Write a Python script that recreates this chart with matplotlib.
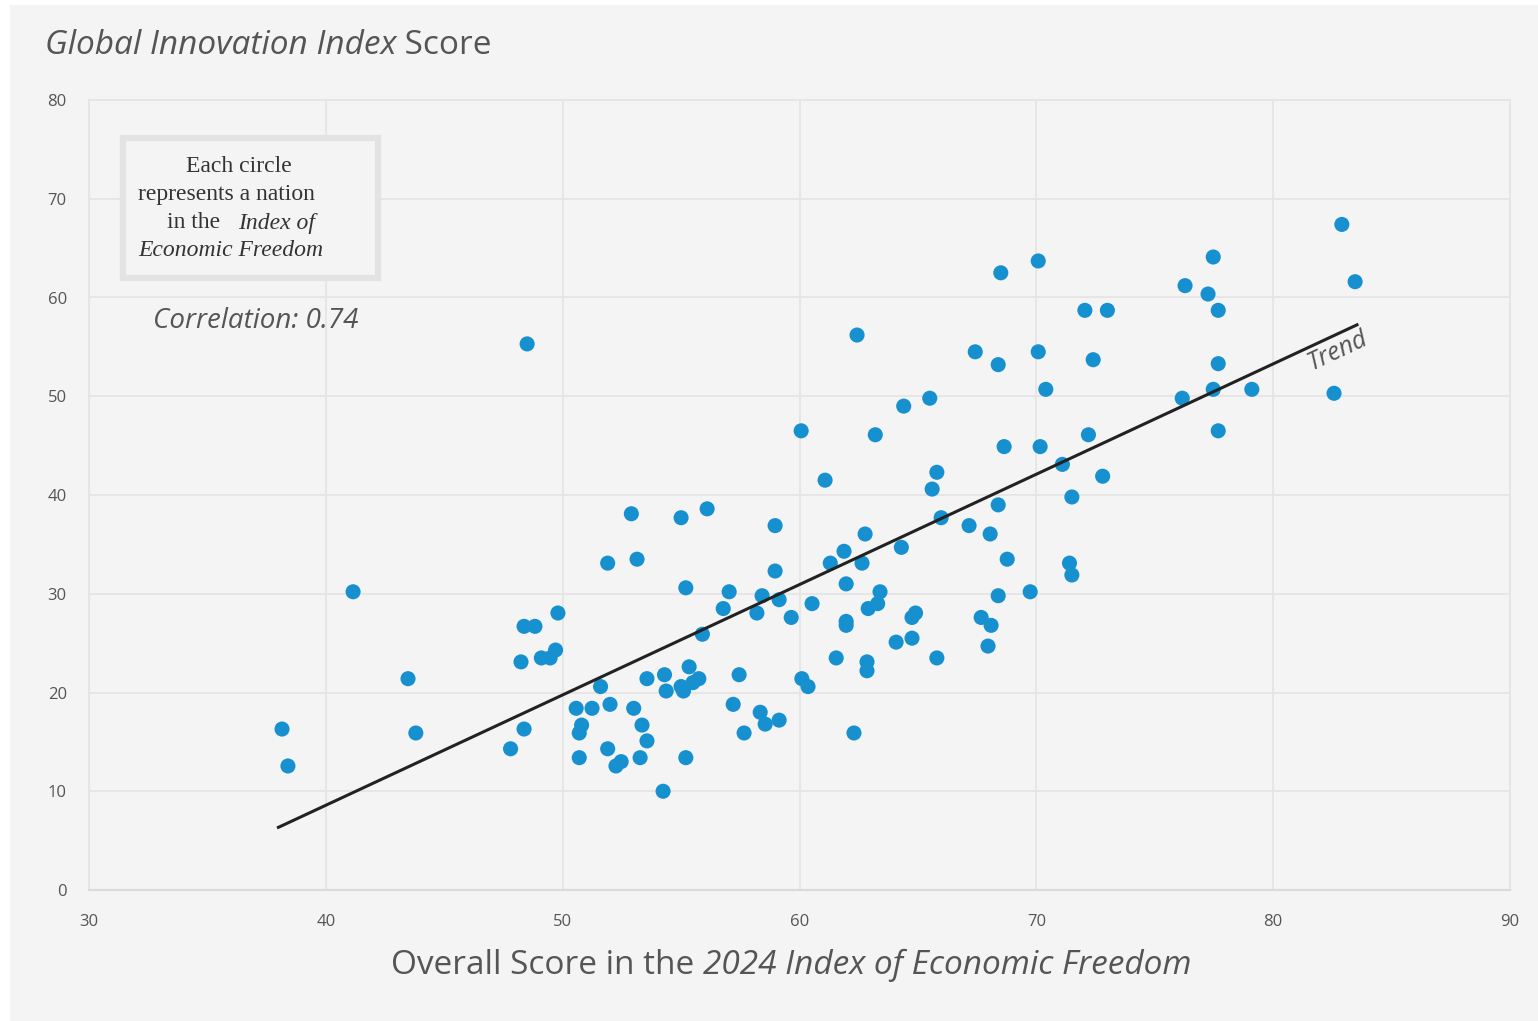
import matplotlib
matplotlib.use("Agg")
import matplotlib.pyplot as plt
from matplotlib.patches import Rectangle
from matplotlib.text import Annotation

# ---- data ----
efi_score = [38.15, 38.4, 41.15, 43.47, 43.8, 48.5, 47.8, 48.24, 48.37, 48.83,
             48.37, 49.1, 49.47, 49.7, 49.8, 50.57, 50.8, 50.7, 50.7, 51.24,
             51.6, 51.9, 52.0, 51.9, 52.25, 52.47, 52.9, 53.0, 53.14, 53.35,
             53.27, 53.56, 53.56, 54.24, 54.3, 54.37, 55.0, 55.0, 55.1, 55.2,
             55.2, 55.34, 55.5, 55.75, 55.9, 56.1, 56.78, 57.03, 57.2, 57.45,
             57.66, 58.2, 58.34, 58.42, 58.55, 58.97, 58.97, 59.14, 59.14, 59.65,
             60.07, 60.1, 60.36, 60.53, 61.08, 61.3, 61.55, 61.88, 61.97, 61.97,
             61.97, 62.3, 62.43, 62.64, 62.77, 62.85, 62.85, 62.9, 63.3, 63.4,
             63.2, 64.08, 64.3, 64.4, 64.75, 64.75, 64.9, 65.5, 65.6, 65.8,
             65.8, 65.98, 67.16, 67.42, 67.67, 68.05, 67.96, 68.09, 68.39, 68.39,
             68.39, 68.5, 68.64, 68.77, 69.74, 70.08, 70.08, 70.16, 70.4, 71.1,
             71.4, 71.5, 71.5, 72.05, 72.2, 72.4, 72.8, 73.0, 76.16, 76.28,
             77.25, 77.47, 77.47, 77.68, 77.68, 77.68, 79.1, 82.57, 82.9, 83.46]
gii_score = [16.3, 12.56, 30.2, 21.4, 15.9, 55.3, 14.3, 23.1, 26.7, 26.7,
             16.3, 23.5, 23.5, 24.3, 28.05, 18.4, 16.7, 15.9, 13.4, 18.4,
             20.6, 33.1, 18.8, 14.3, 12.56, 13.0, 38.1, 18.4, 33.5, 16.7,
             13.4, 15.1, 21.4, 10.0, 21.8, 20.15, 37.7, 20.6, 20.15, 30.6,
             13.4, 22.6, 21.0, 21.4, 25.9, 38.6, 28.5, 30.2, 18.8, 21.8,
             15.9, 28.05, 18.0, 29.8, 16.8, 36.9, 32.3, 29.4, 17.2, 27.6,
             46.5, 21.4, 20.6, 29.0, 41.5, 33.1, 23.5, 34.3, 27.2, 26.8,
             31.0, 15.9, 56.2, 33.1, 36.05, 23.1, 22.2, 28.5, 29.0, 30.2,
             46.1, 25.1, 34.7, 49.0, 25.5, 27.6, 28.05, 49.8, 40.6, 42.3,
             23.5, 37.7, 36.9, 54.5, 27.6, 36.05, 24.7, 26.8, 39.0, 53.2,
             29.8, 62.5, 44.9, 33.5, 30.2, 63.7, 54.5, 44.9, 50.7, 43.1,
             33.1, 31.9, 39.8, 58.7, 46.1, 53.7, 41.9, 58.7, 49.8, 61.2,
             60.35, 64.1, 50.7, 58.7, 53.3, 46.5, 50.7, 50.3, 67.4, 61.6]
trend_x = [37.94, 83.6]
trend_y = [6.28, 57.3]
x_ticks = [30, 40, 50, 60, 70, 80, 90]
y_ticks = [0, 10, 20, 30, 40, 50, 60, 70, 80]
correlation = 0.74

W, H = 1538, 1021
BG = "#f3f4f3"
GRID = "#e4e5e4"
TXT = "#555555"
DOT = "#1790d0"
SANS = ["Open Sans", "DejaVu Sans"]
SERIF = ["Liberation Serif", "DejaVu Serif"]

plt.rcParams["font.family"] = SANS

fig = plt.figure(figsize=(W / 100, H / 100), dpi=100, facecolor="white")
# gray panel
fig.patches.append(Rectangle((10 / W, 0), 1 - 10 / W, 1 - 5 / H, transform=fig.transFigure,
                             facecolor=BG, edgecolor="none", zorder=-10))


def fx(px):
    return px / W


def fy(py):
    return 1 - py / H


def chain(prev, s, **kw):
    """Add text right after another text artist (same baseline)."""
    a = Annotation(s, xy=(1, 0), xycoords=prev, ha="left", va="bottom",
                   annotation_clip=False, **kw)
    fig.add_artist(a)
    return a


ax = fig.add_axes([fx(89), fy(890), fx(1510) - fx(89), fy(100) - fy(890)])
ax.set_facecolor(BG)
ax.set_xlim(30, 90)
ax.set_ylim(0, 80)
ax.set_xticks(x_ticks)
ax.set_yticks(y_ticks)
ax.grid(True, color=GRID, linewidth=1.3)
ax.set_axisbelow(True)
for s in ["left", "right", "top"]:
    ax.spines[s].set_color(GRID)
    ax.spines[s].set_linewidth(1.3)
ax.spines["bottom"].set_color("#d9dad9")
ax.spines["bottom"].set_linewidth(1.6)
ax.tick_params(length=0, colors=TXT, labelsize=12)
ax.tick_params(axis="x", pad=17)
ax.tick_params(axis="y", pad=16)

ax.scatter(efi_score, gii_score, s=118, color=DOT, edgecolors="none", zorder=3)
ax.plot(trend_x, trend_y, color="#222222", linewidth=2.2, zorder=4, solid_capstyle="butt")
ax.text(82.75, 54.6, "Trend", rotation=25, rotation_mode="anchor", ha="center", va="center",
        fontsize=18, style="italic", color=TXT, zorder=5)

# title (mixed italic / regular)
t1 = fig.text(fx(45), fy(45), "Global Innovation Index", style="italic", fontsize=24,
              color=TXT, ha="left", va="center")
chain(t1, " Score", fontsize=24, color=TXT)

# x label (mixed)
x1 = fig.text(fx(391), fy(965), "Overall Score in the ", fontsize=24, color=TXT,
              ha="left", va="center")
chain(x1, "2024 Index of Economic Freedom", fontsize=24, style="italic", color=TXT)

# note box
fig.patches.append(Rectangle((fx(123), fy(278)), fx(378) - fx(123), fy(138) - fy(278),
                             transform=fig.transFigure, facecolor=BG, edgecolor="#e2e3e2",
                             linewidth=4.5, zorder=5))
fs_box = 17
BOXC = "#333333"
fig.text(fx(239), fy(166), "Each circle", family=SERIF, fontsize=fs_box, color=BOXC,
         ha="center", va="center", zorder=6)
fig.text(fx(138), fy(194), "represents a nation", family=SERIF, fontsize=fs_box,
         color=BOXC, ha="left", va="center", zorder=6)
fig.text(fx(167), fy(223), "in the", family=SERIF, fontsize=fs_box, color=BOXC,
         ha="left", va="center", zorder=6)
fig.text(fx(238), fy(223), "Index of", family=SERIF, fontsize=fs_box, style="italic",
         color=BOXC, ha="left", va="center", zorder=6)
fig.text(fx(138), fy(251), "Economic Freedom", family=SERIF, fontsize=fs_box, style="italic",
         color=BOXC, ha="left", va="center", zorder=6)

fig.text(fx(153), fy(321), f"Correlation: {correlation:.2f}", style="italic", fontsize=20,
         color=TXT, ha="left", va="center")

fig.savefig("out.png", dpi=100, facecolor="white")
